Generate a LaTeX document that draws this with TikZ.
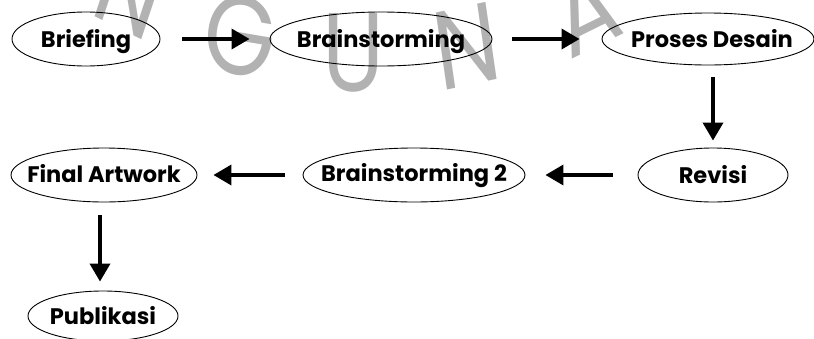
\documentclass[tikz,border=0pt]{standalone}
\usepackage{fontspec}
\newfontfamily\popfont{Poppins}
\usetikzlibrary{arrows.meta,shapes.geometric}
\tikzset{
  stepell/.style={draw=black, ellipse, line width=0.9pt, inner sep=0pt},
  lbl/.style={font=\popfont\bfseries\fontsize{22.5}{26}\selectfont, inner sep=0pt, text height=16pt, text depth=0pt},
  flow/.style={line width=3.6pt, -{Triangle[length=18pt,width=20pt]}},
  wmark/.style={text=black!30, font=\popfont\fontsize{112}{112}\selectfont, inner sep=0pt, text height=78pt, text depth=0pt, xscale=0.82}
}
\begin{document}
\begin{tikzpicture}[x=1pt,y=-1pt]
\useasboundingbox (0,0) rectangle (814,338);
\fill[white] (0,0) rectangle (814,338);
\clip (0,0) rectangle (814,338);
% watermark
\node[wmark, rotate=-22] (w1) at (130,-8) {N};
\node[wmark, rotate=-8] (w2) at (240,36) {G};
\node[wmark, rotate=0] (w3) at (353,52) {U};
\node[wmark, rotate=10] (w4) at (467,46) {N};
\node[wmark, rotate=22] (w5) at (586,10) {A};
% ellipses
\node[stepell, minimum width=148pt, minimum height=54pt] (bf) at (86,39) {};
\node[stepell, minimum width=222pt, minimum height=54pt] (bs) at (381,39) {};
\node[stepell, minimum width=212pt, minimum height=52pt] (pd) at (708,39) {};
\node[stepell, minimum width=150pt, minimum height=54pt] (rv) at (713,175) {};
\node[stepell, minimum width=222pt, minimum height=54pt] (bs2) at (414,175) {};
\node[stepell, minimum width=186pt, minimum height=54pt] (fa) at (104,175) {};
\node[stepell, minimum width=150pt, minimum height=50pt] (pk) at (103,316) {};
% labels
\node[lbl] (tbf) at (86,39) {Briefing};
\node[lbl] (tbs) at (381,39) {Brainstorming};
\node[lbl] (tpd) at (712,39) {Proses Desain};
\node[lbl] (trv) at (713,175) {Revisi};
\node[lbl] (tbs2) at (414,173) {Brainstorming 2};
\node[lbl] (tfa) at (104,174) {Final Artwork};
\node[lbl] (tpk) at (103,316) {Publikasi};
% connectors
\draw[flow, shorten <=22pt, shorten >=20pt] (bf.east) -- (bs.west);
\draw[flow, shorten <=20pt, shorten >=22pt] (bs.east) -- (pd.west);
\draw[flow, shorten <=12pt, shorten >=7pt] (pd.south -| rv.north) -- (rv.north);
\draw[flow, shorten <=25pt, shorten >=20pt] (rv.west) -- (bs2.east);
\draw[flow, shorten <=18pt, shorten >=16pt] (bs2.west) -- (fa.east);
\draw[flow, shorten <=13pt, shorten >=9pt] (fa.south -| 100,0) -- (pk.north -| 100,0);
\end{tikzpicture}
\end{document}
